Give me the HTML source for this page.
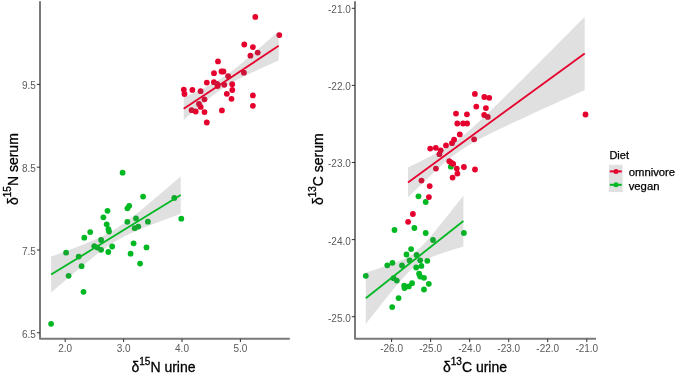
<!DOCTYPE html>
<html><head><meta charset="utf-8"><style>
html,body{margin:0;padding:0;background:#fff;}
svg{display:block;will-change:transform;}
text{font-family:"Liberation Sans",sans-serif;}
.tl{font-size:10px;fill:#5a5a5a;}
.at{font-size:14px;fill:#000;stroke:#000;stroke-width:0.3px;}
.sup{font-size:10px;}
.lg{font-size:11.3px;fill:#000;stroke:#000;stroke-width:0.25px;}
.lgt{font-size:11px;fill:#000;stroke:#000;stroke-width:0.25px;}
</style></head><body>
<svg width="676" height="374" viewBox="0 0 676 374">
<rect width="676" height="374" fill="#fff"/>
<circle cx="255.3" cy="16.9" r="2.9" fill="#e6002e"/>
<circle cx="279.3" cy="35.1" r="2.9" fill="#e6002e"/>
<circle cx="244.3" cy="44.5" r="2.9" fill="#e6002e"/>
<circle cx="252.9" cy="47.1" r="2.9" fill="#e6002e"/>
<circle cx="257.7" cy="52.6" r="2.9" fill="#e6002e"/>
<circle cx="250.4" cy="55.7" r="2.9" fill="#e6002e"/>
<circle cx="218.0" cy="61.4" r="2.9" fill="#e6002e"/>
<circle cx="214.0" cy="73.2" r="2.9" fill="#e6002e"/>
<circle cx="221.5" cy="71.5" r="2.9" fill="#e6002e"/>
<circle cx="223.4" cy="71.5" r="2.9" fill="#e6002e"/>
<circle cx="228.1" cy="76.1" r="2.9" fill="#e6002e"/>
<circle cx="243.9" cy="72.7" r="2.9" fill="#e6002e"/>
<circle cx="206.8" cy="82.6" r="2.9" fill="#e6002e"/>
<circle cx="213.9" cy="82.2" r="2.9" fill="#e6002e"/>
<circle cx="217.2" cy="84.0" r="2.9" fill="#e6002e"/>
<circle cx="217.6" cy="86.1" r="2.9" fill="#e6002e"/>
<circle cx="224.3" cy="84.8" r="2.9" fill="#e6002e"/>
<circle cx="232.2" cy="84.2" r="2.9" fill="#e6002e"/>
<circle cx="232.3" cy="90.0" r="2.9" fill="#e6002e"/>
<circle cx="183.8" cy="89.6" r="2.9" fill="#e6002e"/>
<circle cx="184.5" cy="94.0" r="2.9" fill="#e6002e"/>
<circle cx="192.4" cy="89.9" r="2.9" fill="#e6002e"/>
<circle cx="200.6" cy="91.2" r="2.9" fill="#e6002e"/>
<circle cx="226.8" cy="93.8" r="2.9" fill="#e6002e"/>
<circle cx="231.5" cy="98.8" r="2.9" fill="#e6002e"/>
<circle cx="252.9" cy="95.4" r="2.9" fill="#e6002e"/>
<circle cx="252.9" cy="105.8" r="2.9" fill="#e6002e"/>
<circle cx="204.5" cy="99.3" r="2.9" fill="#e6002e"/>
<circle cx="199.0" cy="103.9" r="2.9" fill="#e6002e"/>
<circle cx="200.7" cy="106.9" r="2.9" fill="#e6002e"/>
<circle cx="191.6" cy="110.2" r="2.9" fill="#e6002e"/>
<circle cx="195.7" cy="111.5" r="2.9" fill="#e6002e"/>
<circle cx="204.5" cy="112.1" r="2.9" fill="#e6002e"/>
<circle cx="221.9" cy="110.4" r="2.9" fill="#e6002e"/>
<circle cx="206.8" cy="122.5" r="2.9" fill="#e6002e"/>
<circle cx="51.1" cy="323.8" r="2.9" fill="#00b822"/>
<circle cx="66.1" cy="252.7" r="2.9" fill="#00b822"/>
<circle cx="78.7" cy="256.6" r="2.9" fill="#00b822"/>
<circle cx="81.6" cy="266.2" r="2.9" fill="#00b822"/>
<circle cx="68.6" cy="275.8" r="2.9" fill="#00b822"/>
<circle cx="83.5" cy="291.8" r="2.9" fill="#00b822"/>
<circle cx="84.3" cy="237.7" r="2.9" fill="#00b822"/>
<circle cx="90.2" cy="232.1" r="2.9" fill="#00b822"/>
<circle cx="94.3" cy="246.2" r="2.9" fill="#00b822"/>
<circle cx="97.3" cy="247.6" r="2.9" fill="#00b822"/>
<circle cx="101.1" cy="240.0" r="2.9" fill="#00b822"/>
<circle cx="101.1" cy="249.8" r="2.9" fill="#00b822"/>
<circle cx="103.4" cy="217.3" r="2.9" fill="#00b822"/>
<circle cx="106.7" cy="224.3" r="2.9" fill="#00b822"/>
<circle cx="108.4" cy="229.1" r="2.9" fill="#00b822"/>
<circle cx="109.0" cy="231.5" r="2.9" fill="#00b822"/>
<circle cx="107.5" cy="210.8" r="2.9" fill="#00b822"/>
<circle cx="112.2" cy="246.5" r="2.9" fill="#00b822"/>
<circle cx="108.3" cy="252.0" r="2.9" fill="#00b822"/>
<circle cx="122.6" cy="172.7" r="2.9" fill="#00b822"/>
<circle cx="129.2" cy="205.8" r="2.9" fill="#00b822"/>
<circle cx="127.4" cy="208.3" r="2.9" fill="#00b822"/>
<circle cx="127.3" cy="221.8" r="2.9" fill="#00b822"/>
<circle cx="136.0" cy="218.4" r="2.9" fill="#00b822"/>
<circle cx="134.7" cy="228.2" r="2.9" fill="#00b822"/>
<circle cx="138.3" cy="226.6" r="2.9" fill="#00b822"/>
<circle cx="147.9" cy="221.7" r="2.9" fill="#00b822"/>
<circle cx="143.1" cy="196.6" r="2.9" fill="#00b822"/>
<circle cx="174.3" cy="197.9" r="2.9" fill="#00b822"/>
<circle cx="181.3" cy="218.7" r="2.9" fill="#00b822"/>
<circle cx="133.6" cy="243.3" r="2.9" fill="#00b822"/>
<circle cx="146.5" cy="247.4" r="2.9" fill="#00b822"/>
<circle cx="130.6" cy="253.7" r="2.9" fill="#00b822"/>
<circle cx="140.1" cy="263.6" r="2.9" fill="#00b822"/>
<circle cx="365.8" cy="275.8" r="2.9" fill="#00b822"/>
<circle cx="387.3" cy="265.3" r="2.9" fill="#00b822"/>
<circle cx="392.4" cy="262.8" r="2.9" fill="#00b822"/>
<circle cx="402.0" cy="265.5" r="2.9" fill="#00b822"/>
<circle cx="393.6" cy="278.2" r="2.9" fill="#00b822"/>
<circle cx="396.8" cy="280.6" r="2.9" fill="#00b822"/>
<circle cx="404.2" cy="285.6" r="2.9" fill="#00b822"/>
<circle cx="404.5" cy="288.0" r="2.9" fill="#00b822"/>
<circle cx="408.8" cy="286.4" r="2.9" fill="#00b822"/>
<circle cx="412.1" cy="283.2" r="2.9" fill="#00b822"/>
<circle cx="398.6" cy="298.1" r="2.9" fill="#00b822"/>
<circle cx="392.2" cy="307.1" r="2.9" fill="#00b822"/>
<circle cx="406.5" cy="254.5" r="2.9" fill="#00b822"/>
<circle cx="411.1" cy="249.1" r="2.9" fill="#00b822"/>
<circle cx="409.6" cy="260.4" r="2.9" fill="#00b822"/>
<circle cx="416.6" cy="255.0" r="2.9" fill="#00b822"/>
<circle cx="420.2" cy="260.3" r="2.9" fill="#00b822"/>
<circle cx="427.3" cy="260.8" r="2.9" fill="#00b822"/>
<circle cx="416.2" cy="267.5" r="2.9" fill="#00b822"/>
<circle cx="421.4" cy="265.9" r="2.9" fill="#00b822"/>
<circle cx="419.1" cy="273.7" r="2.9" fill="#00b822"/>
<circle cx="420.2" cy="276.6" r="2.9" fill="#00b822"/>
<circle cx="424.0" cy="277.8" r="2.9" fill="#00b822"/>
<circle cx="428.8" cy="283.8" r="2.9" fill="#00b822"/>
<circle cx="424.0" cy="289.5" r="2.9" fill="#00b822"/>
<circle cx="433.0" cy="240.0" r="2.9" fill="#00b822"/>
<circle cx="425.7" cy="233.0" r="2.9" fill="#00b822"/>
<circle cx="414.4" cy="228.0" r="2.9" fill="#00b822"/>
<circle cx="463.9" cy="233.0" r="2.9" fill="#00b822"/>
<circle cx="418.5" cy="196.3" r="2.9" fill="#00b822"/>
<circle cx="425.7" cy="202.0" r="2.9" fill="#00b822"/>
<circle cx="450.8" cy="166.7" r="2.9" fill="#00b822"/>
<circle cx="394.5" cy="230.0" r="2.9" fill="#00b822"/>
<circle cx="474.9" cy="93.9" r="2.9" fill="#e6002e"/>
<circle cx="484.3" cy="97.0" r="2.9" fill="#e6002e"/>
<circle cx="489.2" cy="97.8" r="2.9" fill="#e6002e"/>
<circle cx="476.3" cy="106.6" r="2.9" fill="#e6002e"/>
<circle cx="485.9" cy="108.1" r="2.9" fill="#e6002e"/>
<circle cx="456.0" cy="113.6" r="2.9" fill="#e6002e"/>
<circle cx="466.9" cy="114.3" r="2.9" fill="#e6002e"/>
<circle cx="484.2" cy="115.0" r="2.9" fill="#e6002e"/>
<circle cx="487.8" cy="116.9" r="2.9" fill="#e6002e"/>
<circle cx="457.3" cy="123.5" r="2.9" fill="#e6002e"/>
<circle cx="463.1" cy="123.5" r="2.9" fill="#e6002e"/>
<circle cx="467.1" cy="123.5" r="2.9" fill="#e6002e"/>
<circle cx="459.8" cy="134.4" r="2.9" fill="#e6002e"/>
<circle cx="454.1" cy="139.7" r="2.9" fill="#e6002e"/>
<circle cx="452.0" cy="143.2" r="2.9" fill="#e6002e"/>
<circle cx="446.0" cy="145.4" r="2.9" fill="#e6002e"/>
<circle cx="435.8" cy="147.8" r="2.9" fill="#e6002e"/>
<circle cx="430.2" cy="148.6" r="2.9" fill="#e6002e"/>
<circle cx="440.7" cy="150.3" r="2.9" fill="#e6002e"/>
<circle cx="439.4" cy="154.2" r="2.9" fill="#e6002e"/>
<circle cx="474.1" cy="139.3" r="2.9" fill="#e6002e"/>
<circle cx="449.3" cy="161.2" r="2.9" fill="#e6002e"/>
<circle cx="451.6" cy="162.9" r="2.9" fill="#e6002e"/>
<circle cx="453.2" cy="163.8" r="2.9" fill="#e6002e"/>
<circle cx="456.8" cy="168.6" r="2.9" fill="#e6002e"/>
<circle cx="463.9" cy="167.0" r="2.9" fill="#e6002e"/>
<circle cx="475.0" cy="169.5" r="2.9" fill="#e6002e"/>
<circle cx="457.4" cy="173.6" r="2.9" fill="#e6002e"/>
<circle cx="452.6" cy="177.6" r="2.9" fill="#e6002e"/>
<circle cx="435.9" cy="168.6" r="2.9" fill="#e6002e"/>
<circle cx="421.5" cy="180.6" r="2.9" fill="#e6002e"/>
<circle cx="429.7" cy="186.1" r="2.9" fill="#e6002e"/>
<circle cx="428.9" cy="197.1" r="2.9" fill="#e6002e"/>
<circle cx="412.9" cy="214.0" r="2.9" fill="#e6002e"/>
<circle cx="408.1" cy="221.8" r="2.9" fill="#e6002e"/>
<circle cx="585.5" cy="114.5" r="2.9" fill="#e6002e"/>
<path d="M183.70,97.65 L186.07,96.58 L188.45,95.50 L190.82,94.41 L193.20,93.31 L195.57,92.20 L197.95,91.07 L200.32,89.92 L202.70,88.75 L205.07,87.56 L207.45,86.33 L209.82,85.08 L212.20,83.78 L214.57,82.44 L216.95,81.05 L219.32,79.60 L221.70,78.09 L224.07,76.52 L226.45,74.89 L228.82,73.20 L231.20,71.45 L233.57,69.65 L235.95,67.81 L238.32,65.92 L240.70,64.00 L243.07,62.05 L245.45,60.07 L247.82,58.07 L250.20,56.05 L252.57,54.02 L254.95,51.97 L257.32,49.91 L259.70,47.84 L262.07,45.77 L264.45,43.68 L266.82,41.59 L269.20,39.49 L271.57,37.39 L273.95,35.28 L276.32,33.17 L278.70,31.05 L278.70,60.55 L276.32,61.58 L273.95,62.62 L271.57,63.66 L269.20,64.71 L266.82,65.76 L264.45,66.82 L262.07,67.88 L259.70,68.96 L257.32,70.04 L254.95,71.13 L252.57,72.23 L250.20,73.35 L247.82,74.48 L245.45,75.63 L243.07,76.80 L240.70,78.00 L238.32,79.23 L235.95,80.49 L233.57,81.80 L231.20,83.15 L228.82,84.55 L226.45,86.01 L224.07,87.53 L221.70,89.11 L219.32,90.75 L216.95,92.45 L214.57,94.21 L212.20,96.02 L209.82,97.87 L207.45,99.77 L205.07,101.69 L202.70,103.65 L200.32,105.63 L197.95,107.63 L195.57,109.65 L193.20,111.69 L190.82,113.74 L188.45,115.80 L186.07,117.87 L183.70,119.95 Z" fill="#646464" fill-opacity="0.2"/>
<path d="M51.10,256.59 L54.34,255.41 L57.58,254.23 L60.82,253.04 L64.06,251.84 L67.30,250.63 L70.54,249.41 L73.78,248.18 L77.02,246.94 L80.26,245.68 L83.50,244.39 L86.74,243.08 L89.98,241.74 L93.22,240.36 L96.46,238.93 L99.70,237.44 L102.94,235.88 L106.18,234.23 L109.42,232.48 L112.66,230.62 L115.90,228.64 L119.14,226.54 L122.38,224.33 L125.62,222.01 L128.86,219.61 L132.10,217.14 L135.34,214.60 L138.58,212.01 L141.82,209.38 L145.06,206.72 L148.30,204.04 L151.54,201.33 L154.78,198.60 L158.02,195.86 L161.26,193.10 L164.50,190.33 L167.74,187.56 L170.98,184.78 L174.22,181.99 L177.46,179.19 L180.70,176.39 L180.70,213.81 L177.46,214.98 L174.22,216.16 L170.98,217.35 L167.74,218.54 L164.50,219.74 L161.26,220.95 L158.02,222.17 L154.78,223.40 L151.54,224.65 L148.30,225.91 L145.06,227.20 L141.82,228.52 L138.58,229.86 L135.34,231.25 L132.10,232.69 L128.86,234.19 L125.62,235.76 L122.38,237.42 L119.14,239.18 L115.90,241.06 L112.66,243.06 L109.42,245.17 L106.18,247.40 L102.94,249.72 L99.70,252.14 L96.46,254.62 L93.22,257.17 L89.98,259.76 L86.74,262.39 L83.50,265.06 L80.26,267.75 L77.02,270.46 L73.78,273.19 L70.54,275.94 L67.30,278.69 L64.06,281.46 L60.82,284.24 L57.58,287.02 L54.34,289.81 L51.10,292.61 Z" fill="#646464" fill-opacity="0.2"/>
<path d="M408.00,167.44 L412.42,165.33 L416.83,163.21 L421.25,161.05 L425.67,158.85 L430.09,156.61 L434.50,154.30 L438.92,151.90 L443.34,149.38 L447.76,146.71 L452.18,143.83 L456.59,140.72 L461.01,137.37 L465.43,133.79 L469.85,130.01 L474.26,126.07 L478.68,122.01 L483.10,117.87 L487.51,113.66 L491.93,109.40 L496.35,105.11 L500.77,100.79 L505.19,96.44 L509.60,92.08 L514.02,87.70 L518.44,83.32 L522.86,78.92 L527.27,74.51 L531.69,70.10 L536.11,65.68 L540.53,61.26 L544.94,56.84 L549.36,52.41 L553.78,47.97 L558.20,43.54 L562.61,39.10 L567.03,34.66 L571.45,30.22 L575.87,25.77 L580.28,21.33 L584.70,16.88 L584.70,89.92 L580.28,91.92 L575.87,93.93 L571.45,95.93 L567.03,97.94 L562.61,99.95 L558.20,101.96 L553.78,103.98 L549.36,105.99 L544.94,108.01 L540.53,110.04 L536.11,112.07 L531.69,114.10 L527.27,116.14 L522.86,118.18 L518.44,120.23 L514.02,122.30 L509.60,124.37 L505.19,126.46 L500.77,128.56 L496.35,130.69 L491.93,132.85 L487.51,135.04 L483.10,137.28 L478.68,139.59 L474.26,141.98 L469.85,144.49 L465.43,147.16 L461.01,150.03 L456.59,153.13 L452.18,156.47 L447.76,160.04 L443.34,163.82 L438.92,167.75 L434.50,171.80 L430.09,175.94 L425.67,180.15 L421.25,184.40 L416.83,188.69 L412.42,193.02 L408.00,197.36 Z" fill="#646464" fill-opacity="0.2"/>
<path d="M365.80,272.43 L368.24,271.69 L370.68,270.93 L373.12,270.17 L375.56,269.41 L378.00,268.63 L380.44,267.85 L382.88,267.05 L385.32,266.24 L387.76,265.42 L390.20,264.57 L392.64,263.70 L395.08,262.80 L397.52,261.86 L399.96,260.86 L402.40,259.80 L404.84,258.65 L407.28,257.38 L409.72,255.97 L412.16,254.39 L414.60,252.60 L417.04,250.59 L419.48,248.38 L421.92,245.99 L424.36,243.44 L426.80,240.76 L429.24,237.99 L431.68,235.15 L434.12,232.25 L436.56,229.30 L439.00,226.32 L441.44,223.32 L443.88,220.29 L446.32,217.24 L448.76,214.18 L451.20,211.11 L453.64,208.03 L456.08,204.93 L458.52,201.84 L460.96,198.73 L463.40,195.62 L463.40,246.38 L460.96,247.13 L458.52,247.88 L456.08,248.65 L453.64,249.41 L451.20,250.19 L448.76,250.98 L446.32,251.78 L443.88,252.59 L441.44,253.42 L439.00,254.28 L436.56,255.16 L434.12,256.07 L431.68,257.03 L429.24,258.05 L426.80,259.14 L424.36,260.32 L421.92,261.63 L419.48,263.10 L417.04,264.75 L414.60,266.60 L412.16,268.67 L409.72,270.95 L407.28,273.40 L404.84,275.99 L402.40,278.70 L399.96,281.50 L397.52,284.36 L395.08,287.28 L392.64,290.24 L390.20,293.23 L387.76,296.24 L385.32,299.28 L382.88,302.33 L380.44,305.39 L378.00,308.47 L375.56,311.55 L373.12,314.65 L370.68,317.75 L368.24,320.85 L365.80,323.97 Z" fill="#646464" fill-opacity="0.2"/>
<line x1="183.7" y1="108.8" x2="278.7" y2="45.8" stroke="#e6002e" stroke-width="1.8"/>
<line x1="51.1" y1="274.6" x2="180.7" y2="195.1" stroke="#00b822" stroke-width="1.8"/>
<line x1="408.0" y1="182.4" x2="584.7" y2="53.4" stroke="#e6002e" stroke-width="1.8"/>
<line x1="365.8" y1="298.2" x2="463.4" y2="221.0" stroke="#00b822" stroke-width="1.8"/>
<path d="M40,1.3 V338.8 H289.8" fill="none" stroke="#7a7a7a" stroke-width="2" stroke-linejoin="round" stroke-linecap="butt"/>
<line x1="36.8" y1="332.8" x2="40" y2="332.8" stroke="#333333" stroke-width="1"/>
<text x="35.8" y="337.7" text-anchor="end" class="tl">6.5</text>
<line x1="36.8" y1="250.0" x2="40" y2="250.0" stroke="#333333" stroke-width="1"/>
<text x="35.8" y="254.9" text-anchor="end" class="tl">7.5</text>
<line x1="36.8" y1="167.2" x2="40" y2="167.2" stroke="#333333" stroke-width="1"/>
<text x="35.8" y="172.1" text-anchor="end" class="tl">8.5</text>
<line x1="36.8" y1="84.4" x2="40" y2="84.4" stroke="#333333" stroke-width="1"/>
<text x="35.8" y="89.30000000000001" text-anchor="end" class="tl">9.5</text>
<line x1="65.2" y1="338.8" x2="65.2" y2="342.0" stroke="#333333" stroke-width="1"/>
<text x="65.2" y="351.8" text-anchor="middle" class="tl">2.0</text>
<line x1="123.6" y1="338.8" x2="123.6" y2="342.0" stroke="#333333" stroke-width="1"/>
<text x="123.6" y="351.8" text-anchor="middle" class="tl">3.0</text>
<line x1="182.0" y1="338.8" x2="182.0" y2="342.0" stroke="#333333" stroke-width="1"/>
<text x="182.0" y="351.8" text-anchor="middle" class="tl">4.0</text>
<line x1="240.4" y1="338.8" x2="240.4" y2="342.0" stroke="#333333" stroke-width="1"/>
<text x="240.4" y="351.8" text-anchor="middle" class="tl">5.0</text>
<path d="M355,1.3 V338.8 H596" fill="none" stroke="#7a7a7a" stroke-width="2" stroke-linejoin="round" stroke-linecap="butt"/>
<line x1="351.8" y1="316.7" x2="355" y2="316.7" stroke="#333333" stroke-width="1"/>
<text x="350.8" y="321.59999999999997" text-anchor="end" class="tl">-25.0</text>
<line x1="351.8" y1="239.6" x2="355" y2="239.6" stroke="#333333" stroke-width="1"/>
<text x="350.8" y="244.5" text-anchor="end" class="tl">-24.0</text>
<line x1="351.8" y1="162.5" x2="355" y2="162.5" stroke="#333333" stroke-width="1"/>
<text x="350.8" y="167.4" text-anchor="end" class="tl">-23.0</text>
<line x1="351.8" y1="85.4" x2="355" y2="85.4" stroke="#333333" stroke-width="1"/>
<text x="350.8" y="90.30000000000001" text-anchor="end" class="tl">-22.0</text>
<line x1="351.8" y1="8.3" x2="355" y2="8.3" stroke="#333333" stroke-width="1"/>
<text x="350.8" y="13.200000000000001" text-anchor="end" class="tl">-21.0</text>
<line x1="391.6" y1="338.8" x2="391.6" y2="342.0" stroke="#333333" stroke-width="1"/>
<text x="391.6" y="351.8" text-anchor="middle" class="tl">-26.0</text>
<line x1="430.6" y1="338.8" x2="430.6" y2="342.0" stroke="#333333" stroke-width="1"/>
<text x="430.6" y="351.8" text-anchor="middle" class="tl">-25.0</text>
<line x1="469.6" y1="338.8" x2="469.6" y2="342.0" stroke="#333333" stroke-width="1"/>
<text x="469.6" y="351.8" text-anchor="middle" class="tl">-24.0</text>
<line x1="508.7" y1="338.8" x2="508.7" y2="342.0" stroke="#333333" stroke-width="1"/>
<text x="508.7" y="351.8" text-anchor="middle" class="tl">-23.0</text>
<line x1="547.7" y1="338.8" x2="547.7" y2="342.0" stroke="#333333" stroke-width="1"/>
<text x="547.7" y="351.8" text-anchor="middle" class="tl">-22.0</text>
<line x1="586.8" y1="338.8" x2="586.8" y2="342.0" stroke="#333333" stroke-width="1"/>
<text x="586.8" y="351.8" text-anchor="middle" class="tl">-21.0</text>
<text x="131.5" y="371.8" class="at">δ<tspan class="sup" dy="-7.3">15</tspan><tspan dy="7.3">N urine</tspan></text>
<text x="443" y="371.8" class="at">δ<tspan class="sup" dy="-7.3">13</tspan><tspan dy="7.3">C urine</tspan></text>
<text transform="translate(17.8,205) rotate(-90)" class="at">δ<tspan class="sup" dy="-7.3">15</tspan><tspan dy="7.3">N serum</tspan></text>
<text transform="translate(323.3,205.1) rotate(-90)" class="at">δ<tspan class="sup" dy="-7.3">13</tspan><tspan dy="7.3">C serum</tspan></text>
<text x="609.4" y="158.8" class="lgt">Diet</text>
<rect x="609" y="164.8" width="13.6" height="27.3" fill="#e0e0e0"/>
<line x1="609.8" y1="171.4" x2="621.8" y2="171.4" stroke="#e6002e" stroke-width="2"/>
<circle cx="616" cy="171.4" r="2.5" fill="#e6002e"/>
<text x="628.7" y="176.4" class="lg">omnivore</text>
<line x1="609.8" y1="184.8" x2="621.8" y2="184.8" stroke="#00b822" stroke-width="2"/>
<circle cx="616" cy="184.8" r="2.5" fill="#00b822"/>
<text x="628.7" y="189.8" class="lg">vegan</text>
</svg>
</body></html>
